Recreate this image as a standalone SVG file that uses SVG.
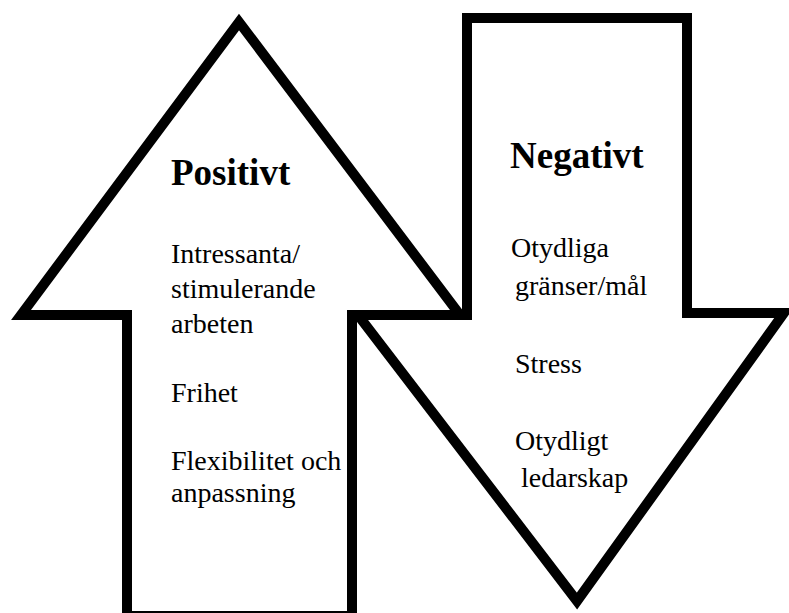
<svg xmlns="http://www.w3.org/2000/svg" width="789" height="613" viewBox="0 0 789 613">
<style>
.arrow{fill:#fff;stroke:#000;stroke-width:10;stroke-linejoin:miter;stroke-miterlimit:10}
.h{font-family:"Liberation Serif","Times New Roman",serif;font-weight:bold;font-size:37px;fill:#000}
.t{font-family:"Liberation Serif","Times New Roman",serif;font-size:28px;fill:#000}
</style>
<rect width="789" height="613" fill="#fff"/>
<g id="connectors"></g>
<g id="up-arrow">
<polygon class="arrow" points="239,22 460,315 352,315 352,616 127,616 127,315 21,315"/>
<text class="h" x="171" y="185">Positivt</text>
<text class="t" x="171" y="263">Intressanta/</text>
<text class="t" x="171" y="298">stimulerande</text>
<text class="t" x="171" y="333">arbeten</text>
<text class="t" x="171" y="402">Frihet</text>
<text class="t" x="171" y="470">Flexibilitet och</text>
<text class="t" x="171" y="502">anpassning</text>
</g>
<g id="down-arrow">
<polygon class="arrow" points="467,18 687,18 687,313 784,313 577,601 358,315 467,315"/>
<text class="h" x="510" y="168">Negativt</text>
<text class="t" x="511" y="257">Otydliga</text>
<text class="t" x="515" y="295">gränser/mål</text>
<text class="t" x="515" y="373">Stress</text>
<text class="t" x="515" y="450">Otydligt</text>
<text class="t" x="521" y="487">ledarskap</text>
</g>
</svg>
